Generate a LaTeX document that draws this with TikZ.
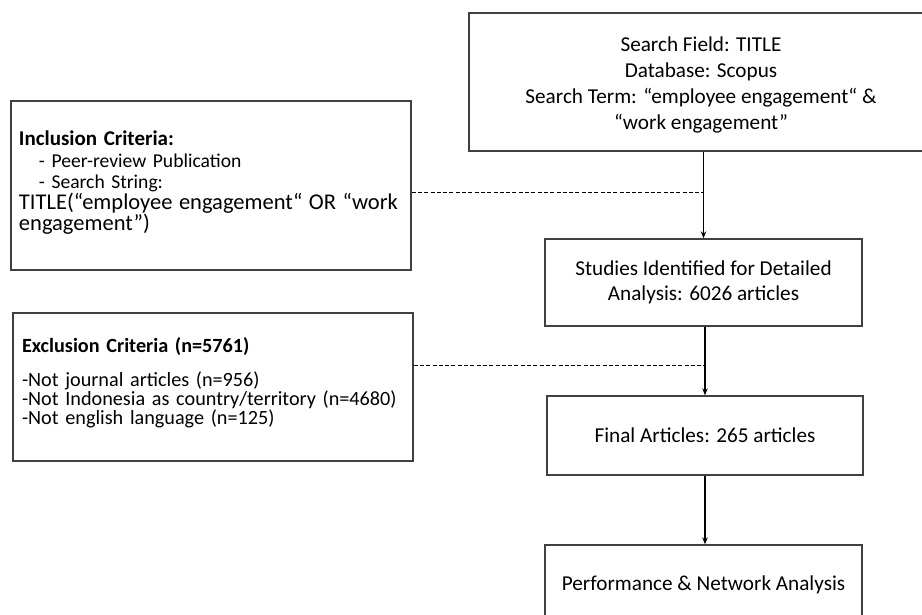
\documentclass[tikz,border=0pt]{standalone}
\usepackage{fontspec}
\setmainfont{Carlito}
\usetikzlibrary{arrows.meta}
\begin{document}
\begin{tikzpicture}[x=1pt,y=-1pt,
  box/.style={draw=black!75, line width=1.3pt, inner sep=0pt, align=center,
    font=\fontsize{21.2}{25.5}\selectfont},
  leftbox/.style={draw=black!75, line width=1.3pt, inner ysep=0pt, align=left},
  arr/.style={-{Stealth[length=7pt,width=5.5pt]}, line width=1.3pt, black},
  dashline/.style={line width=1pt, dash pattern=on 4pt off 2.3pt, black}
]
\useasboundingbox (0,0) rectangle (922,614);

% box runs from x=469 to x=960 (cut by the page edge); text centred at x=701
\node[box, minimum width=491pt, minimum height=138pt,
  font=\fontsize{21.2}{26}\selectfont] (search) at (714.5,82)
  {\begin{tabular}{@{}c@{}}\rule{0pt}{24pt}Search Field: TITLE\\Database: Scopus\\Search Term: “employee engagement“ \&\\“work engagement”\end{tabular}\hspace*{27pt}};

\node[leftbox, inner xsep=8pt, text width=384pt, minimum height=169pt,
  font=\fontsize{19.6}{21.3}\selectfont] (incl) at (211,185.5)
  {{\fontsize{21}{21.3}\selectfont\textbf{Inclusion Criteria:}}\\
   \hspace*{20pt}- Peer-review Publication\\
   \hspace*{20pt}- Search String:\\
   {\fontsize{22.5}{21.3}\selectfont TITLE(“employee engagement“ OR “work\\engagement”)\rule[-9pt]{0pt}{1pt}}};

\node[leftbox, inner xsep=9pt, text width=382pt, minimum height=148pt,
  font=\fontsize{20.2}{19}\selectfont] (excl) at (213,387)
  {\textbf{Exclusion Criteria (n=5761)}\\[15pt]
   -Not journal articles (n=956)\\
   -Not Indonesia as country/territory (n=4680)\\
   -Not english language (n=125)\rule[-13pt]{0pt}{1pt}};

\node[box, minimum width=317pt, minimum height=87pt] (studies) at (703.5,282.5)
  {Studies Identified for Detailed\\Analysis: 6026 articles};

\node[box, minimum width=316pt, minimum height=79pt] (final) at (705,435.5)
  {Final Articles: 265 articles};

\node[box, minimum width=317pt, minimum height=80pt] (perf) at (703.5,585)
  {Performance \& Network Analysis};

\draw[arr] (studies.north |- search.south) -- (studies.north);
\draw[arr] (final.north |- studies.south) -- (final.north);
\draw[arr] (final.south) -- (final.south |- perf.north);

\draw[dashline] ([yshift=-6.5pt]incl.east) -- ([yshift=-6.5pt]incl.east -| studies.north);
\draw[dashline] ([yshift=22pt]excl.east) -- ([yshift=22pt]excl.east -| final.north);
\end{tikzpicture}
\end{document}
